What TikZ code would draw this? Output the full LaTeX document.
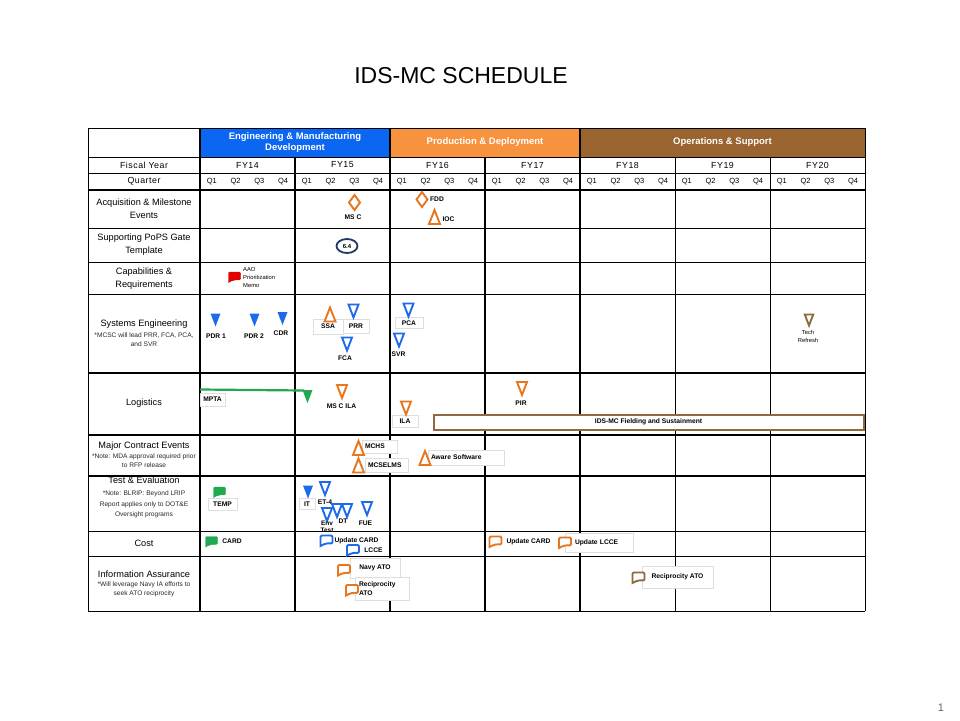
\documentclass[tikz,border=0pt]{standalone}
\usepackage{fontspec}
\setmainfont{Liberation Sans}
\usepackage{tikz}
\usetikzlibrary{shapes.geometric,positioning}

\definecolor{emdblue}{HTML}{0B66F2}
\definecolor{pdorange}{HTML}{F7923F}
\definecolor{osbrown}{HTML}{9A6430}
\definecolor{mkorange}{HTML}{E8761E}
\definecolor{mkblue}{HTML}{1C6BEA}
\definecolor{mkgreen}{HTML}{22A850}
\definecolor{mkbrown}{HTML}{8E6A3E}
\definecolor{mknavy}{HTML}{1F3864}
\definecolor{mkred}{HTML}{E60000}

\newcommand{\fsz}[2]{\fontsize{#1}{#2}\selectfont}

\tikzset{
  tridn/.pic={\path[pic actions] (-5,-6.5) -- (5,-6.5) -- (0,6.5) -- cycle;},
  triup/.pic={\path[pic actions] (-5.5,7) -- (5.5,7) -- (0,-7) -- cycle;},
  diam/.pic={\path[pic actions] (0,-7.5) -- (5.5,0) -- (0,7.5) -- (-5.5,0) -- cycle;},
  docu/.pic={\path[pic actions, rounded corners=1.2pt] (-6,5.5) -- (-6,-5) -- (6,-5) -- (6,3)
    [sharp corners] .. controls (2,2.5) and (-2,3) .. (-6,5.5) -- cycle;}
}

\begin{document}
\begin{tikzpicture}[x=1pt,y=-1pt]
\tikzstyle{every node}=[font=\fsz{6}{7}, inner sep=1pt]
\tikzstyle{hdr}=[font=\bfseries\fsz{9.5}{11}, text=white, align=center]
\tikzstyle{rowlbl}=[font=\fsz{9.2}{13}, align=center]
\tikzstyle{yrlbl}=[font=\fsz{8.8}{10}\addfontfeature{LetterSpace=6}]
\tikzstyle{qlbl}=[font=\fsz{7.5}{9}]
\tikzstyle{note}=[font=\fsz{6.6}{9}, align=center, text=black!85]
\tikzstyle{tag}=[font=\bfseries\fsz{6.7}{7.5}, align=center]
\tikzstyle{tagbox}=[tag, draw=black!13, fill=white, inner xsep=2pt]
\tikzstyle{hol}=[line width=1.9pt, fill=white]
\tikzstyle{thk}=[line width=2pt]
\tikzstyle{thn}=[line width=1pt]
\useasboundingbox (0,0) rectangle (960,720);

\node[font=\fsz{23}{26}] (title) at (461,76) {IDS-MC SCHEDULE};
\node[font=\fsz{11}{13}, text=black!60] (pgno) at (941,708) {1};

% phase header
\fill[emdblue] (200,128) rectangle (390,157);
\fill[pdorange] (390,128) rectangle (580,157);
\fill[osbrown] (580,128) rectangle (865,157);
\node[hdr] (emd) at (295,142.5) {Engineering \& Manufacturing\\Development};
\node[hdr] (prod) at (485,142.5) {Production \& Deployment};
\node[hdr] (ops) at (722.5,142.5) {Operations \& Support};

% grid
\foreach \y in {128,157,173,228,262,294,531,556,611}
  \draw[thn] (88,\y) -- (865,\y);
\foreach \y in {190,373,435,476}
  \draw[thk] (88,\y) -- (865,\y);
\draw[thn] (88,128) -- (88,611);
\draw[thn] (865,128) -- (865,611);
\draw[line width=1.2pt] (200,128) -- (200,611);
\foreach \x in {390,580}
  \draw[thk] (\x,128) -- (\x,611);
\foreach \x in {295,485}
  \draw[thk] (\x,157) -- (\x,611);
\foreach \x in {675,770}
  \draw[thn] (\x,157) -- (\x,611);

% years and quarters
\node[yrlbl] (fyl) at (144,165) {Fiscal Year};
\node[yrlbl] (qtl) at (144,181.5) {Quarter};
\foreach \n [count=\i from 0] in {14,...,20}{
  \node[yrlbl] (fy\n) at (247.5+95*\i,165) {FY\n};
  \foreach \q in {1,...,4}
    \node[qlbl] (q\n-\q) at ({200+95*\i+23.75*(\q-0.5)},181.5) {Q\q};
}

% row labels
\node[rowlbl] (acq) at (144,208.5) {Acquisition \& Milestone\\Events};
\node[rowlbl] (pops) at (144,245) {Supporting PoPS Gate\\Template};
\node[rowlbl] (cap) at (144,278.5) {Capabilities \&\\Requirements};
\node[rowlbl] (syseng) at (144,324) {Systems Engineering};
\node[note] (sysnote) at (144,339.5) {*MCSC will lead PRR, FCA, PCA,\\and SVR};
\node[rowlbl] (logi) at (144,403.5) {Logistics};
\node[rowlbl] (mce) at (144,446) {Major Contract Events};
\node[note] (mcenote) at (144,460.5) {*Note: MDA approval required prior\\to RFP release};
\node[rowlbl] (te) at (144,480.5) {Test \& Evaluation};
\node[note, font=\fsz{6.6}{10.5}] (tenote) at (144,504.5) {*Note: BLRIP: Beyond LRIP\\Report applies only to DOT\&E\\Oversight programs};
\node[rowlbl] (cost) at (144,543.5) {Cost};
\node[rowlbl] (ia) at (144,574) {Information Assurance};
\node[note] (ianote) at (144,589.5) {*Will leverage Navy IA efforts to\\seek ATO reciprocity};

% acquisition & milestone events
\pic[hol, draw=mkorange] at (354.5,202.5) {diam};
\node[tag] (msc) at (353,217) {MS C};
\pic[hol, draw=mkorange] at (422,199.5) {diam};
\node[tag] (fdd) at (437,199) {FDD};
\pic[hol, draw=mkorange] at (434.5,217) {triup};
\node[tag] (ioc) at (448.5,219) {IOC};

% pops gate
\node[ellipse, draw=mknavy, line width=1.8pt, minimum width=21pt, minimum height=14pt, inner sep=0pt, tag, font=\bfseries\fsz{6}{7}] (gate) at (347,246) {6.4};

% capabilities
\pic[fill=mkred, draw=mkred!80!black, line width=0.4pt] at (234.5,277) {docu};
\node[anchor=west, align=left, font=\fsz{5.8}{8}] (aao) at (242,277) {AAO\\Prioritization\\Memo};

% systems engineering
\node[tagbox, minimum width=30pt, minimum height=15pt] (ssa) at (328,326.5) {SSA};
\node[tagbox, minimum width=26pt, minimum height=14pt] (prr) at (356,326) {PRR};
\node[tagbox, minimum width=28pt, minimum height=11pt] (pca) at (409,323) {PCA};
\pic[fill=mkblue] at (215.5,320) {tridn};
\node[tag] (pdr1) at (216,336) {PDR 1};
\pic[fill=mkblue] at (254.5,320) {tridn};
\node[tag] (pdr2) at (254,336) {PDR 2};
\pic[fill=mkblue] at (282.5,318.5) {tridn};
\node[tag] (cdr) at (281,333) {CDR};
\pic[hol, draw=mkorange] at (330,314.5) {triup};
\pic[hol, draw=mkblue] at (353.5,311) {tridn};
\pic[hol, draw=mkblue] at (347,344) {tridn};
\node[tag] (fca) at (345,358) {FCA};
\pic[hol, draw=mkblue] at (408.5,310) {tridn};
\pic[hol, draw=mkblue] at (399,340) {tridn};
\node[tag] (svr) at (398.5,354) {SVR};
\pic[hol, draw=mkbrown, scale=0.85] at (809,320) {tridn};
\node[font=\fsz{5.8}{8}, align=center] (tech) at (808,336.5) {Tech\\Refresh};

% logistics
\node[tagbox, minimum width=25pt, minimum height=13pt] (mpta) at (212.5,399.5) {MPTA};
\coordinate (mptaA) at (200,389.5);
\coordinate (mptaB) at (304,390.5);
\draw[mkgreen, line width=2.2pt] (mptaA) -- (mptaB);
\pic[fill=mkgreen] at (307.5,396.5) {tridn};
\pic[hol, draw=mkorange] at (342,391.5) {tridn};
\node[tag] (mscila) at (341.5,406) {MS C ILA};
\node[tagbox, minimum width=26pt, minimum height=12pt] (ila) at (405,421.5) {ILA};
\pic[hol, draw=mkorange] at (406,408) {tridn};
\pic[hol, draw=mkorange] at (522,388.5) {tridn};
\node[tag] (pir) at (521,403) {PIR};
\node[tag, draw=mkbrown, line width=2pt, fill=white, minimum width=430pt, minimum height=15pt, inner sep=0pt] (field) at (648.5,422) {IDS-MC Fielding and Sustainment};

% major contract events
\node[tagbox, minimum width=35pt, minimum height=13pt, text width=29pt, align=left] (mchs) at (379.5,446.5) {MCHS};
\node[tagbox, minimum width=43pt, minimum height=14pt, text width=37pt, align=left] (mcselms) at (386.5,465) {MCSELMS};
\node[tagbox, minimum width=76pt, minimum height=15pt, text width=70pt, align=left] (aware) at (466,457.5) {Aware Software};
\pic[hol, draw=mkorange] at (358.5,448) {triup};
\pic[hol, draw=mkorange] at (358.5,465.5) {triup};
\pic[hol, draw=mkorange] at (425,458) {triup};

% test & evaluation
\node[tagbox, minimum width=29pt, minimum height=12pt] (temp) at (222.5,504.5) {TEMP};
\pic[fill=mkgreen, draw=mkgreen, line width=0.4pt] at (219.5,492) {docu};
\node[tagbox, minimum width=16pt, minimum height=11pt] (it) at (307,504) {IT};
\pic[fill=mkblue] at (308,492) {tridn};
\pic[hol, draw=mkblue] at (325,488.5) {tridn};
\node[tag] (et4) at (325,502) {ET-4};
\pic[hol, draw=mkblue] at (327,514.5) {tridn};
\node[tag, font=\bfseries\fsz{6.5}{7}] (envtest) at (327,526.5) {Env\\Test};
\pic[hol, draw=mkblue] at (337,510.5) {tridn};
\pic[hol, draw=mkblue] at (347,510.5) {tridn};
\node[tag] (dt) at (343,521) {DT};
\pic[hol, draw=mkblue] at (367,508.5) {tridn};
\node[tag] (fue) at (365.5,523) {FUE};

% cost
\pic[fill=mkgreen, draw=mkgreen, line width=0.4pt] at (211.5,541.5) {docu};
\node[tag] (card) at (232,541.5) {CARD};
\pic[hol, draw=mkblue] at (326.5,540.5) {docu};
\node[tag] (upcard) at (356.5,540.5) {Update CARD};
\pic[hol, draw=mkblue] at (353,550) {docu};
\node[tag] (lcce) at (373.5,550.5) {LCCE};
\pic[hol, draw=mkorange] at (495.5,541.5) {docu};
\node[tag] (upcard2) at (528.5,541.5) {Update CARD};
\node[tagbox, minimum width=68pt, minimum height=19pt, text width=62pt, align=left, inner xsep=3pt] (uplcce) at (599,542.5) {\hspace*{7pt}Update LCCE};
\pic[hol, draw=mkorange] at (565,542.5) {docu};

% information assurance
\node[tagbox, minimum width=50pt, minimum height=20pt] (navy) at (375,568) {Navy ATO};
\pic[hol, draw=mkorange] at (344,570) {docu};
\node[tagbox, minimum width=54pt, minimum height=23pt, text width=46pt, align=left, font=\bfseries\fsz{6.7}{9}] (recip1) at (382,588.5) {Reciprocity\\ATO};
\pic[hol, draw=mkorange] at (352,590) {docu};
\node[tagbox, minimum width=71pt, minimum height=22pt] (recip2) at (677.5,577) {Reciprocity ATO};
\pic[hol, draw=mkbrown] at (638.5,577.5) {docu};

\end{tikzpicture}
\end{document}
